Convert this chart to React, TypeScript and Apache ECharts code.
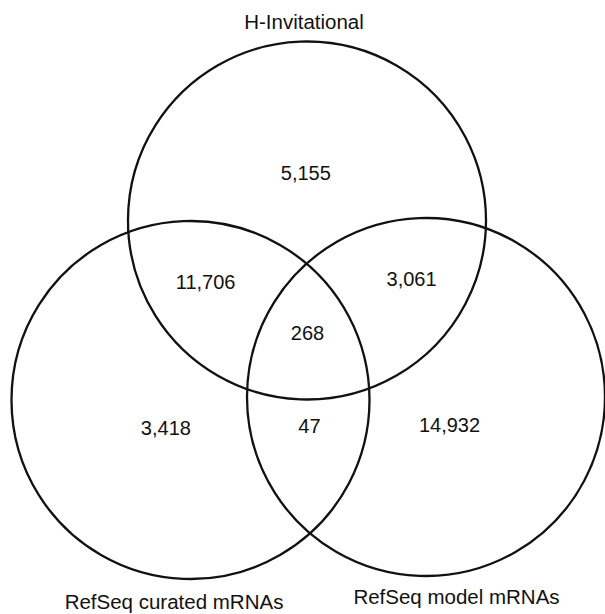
import React, { useEffect, useRef } from "react";
import * as echarts from "echarts";

// Set names (circle titles)
const setNames: string[] = ["H-Invitational", "RefSeq curated mRNAs", "RefSeq model mRNAs"];

// Region counts of the Venn diagram
const regionNames: string[] = [
  "H-Invitational only",
  "H-Invitational ∩ curated",
  "H-Invitational ∩ model",
  "all three",
  "curated only",
  "curated ∩ model",
  "model only",
];
const regionValues: number[] = [5155, 11706, 3061, 268, 3418, 47, 14932];

// Layout (in a 605 x 614 frame, drawn through hidden value axes)
const circleCenters: number[][] = [
  [307, 220.5],
  [190.5, 400],
  [426, 397],
];
const circleRadius = 179;
const regionLabelPos: number[][] = [
  [305.8, 173],
  [205.6, 281.5],
  [411.6, 279.3],
  [307.5, 332.6],
  [165.9, 428],
  [309.4, 426.3],
  [449.5, 425],
];
const setLabelPos: number[][] = [
  [304, 21],
  [174, 601.5],
  [456.5, 596.5],
];

const FONT = "'Liberation Sans', Arial, Helvetica, sans-serif";

export default function App() {
  const ref = useRef<HTMLDivElement>(null);

  useEffect(() => {
    if (!ref.current) return;
    const chart = echarts.init(ref.current, undefined, { renderer: "svg" });

    const circleData = circleCenters.map((c) => [c[0], c[1], circleRadius]);
    const regionData = regionLabelPos.map((p, i) => [p[0], p[1], regionValues[i]]);
    const setData = setLabelPos.map((p) => [p[0], p[1]]);

    chart.setOption({
      animation: false,
      backgroundColor: "#ffffff",
      grid: { left: 0, right: 0, top: 0, bottom: 0 },
      xAxis: { type: "value", min: 0, max: 605, show: false },
      yAxis: { type: "value", min: 0, max: 614, inverse: true, show: false },
      series: [
        {
          type: "custom",
          name: "circles",
          silent: true,
          clip: false,
          data: circleData,
          renderItem: (params: any, api: any) => {
            const c = api.coord([api.value(0), api.value(1)]);
            const r = api.size([api.value(2), 0])[0];
            return {
              type: "circle",
              shape: { cx: c[0], cy: c[1], r },
              style: { fill: "none", stroke: "#111111", lineWidth: 2.3 },
            };
          },
        },
        {
          type: "custom",
          name: "regions",
          silent: true,
          clip: false,
          data: regionData,
          renderItem: (params: any, api: any) => {
            const c = api.coord([api.value(0), api.value(1)]);
            const v = regionValues[params.dataIndex];
            return {
              type: "text",
              x: c[0],
              y: c[1],
              style: {
                text: v.toLocaleString("en-US"),
                fill: "#111111",
                fontSize: 20,
                fontFamily: FONT,
                align: "center",
                verticalAlign: "middle",
              },
            };
          },
        },
        {
          type: "custom",
          name: "sets",
          silent: true,
          clip: false,
          data: setData,
          renderItem: (params: any, api: any) => {
            const c = api.coord([api.value(0), api.value(1)]);
            return {
              type: "text",
              x: c[0],
              y: c[1],
              style: {
                text: setNames[params.dataIndex],
                fill: "#111111",
                fontSize: 20.5,
                fontFamily: FONT,
                align: "center",
                verticalAlign: "middle",
              },
            };
          },
        },
      ],
    });

    return () => chart.dispose();
  }, []);

  return (
    <div
      ref={ref}
      style={{ position: "fixed", left: 0, top: 0, width: 605, height: 614 }}
    />
  );
}
